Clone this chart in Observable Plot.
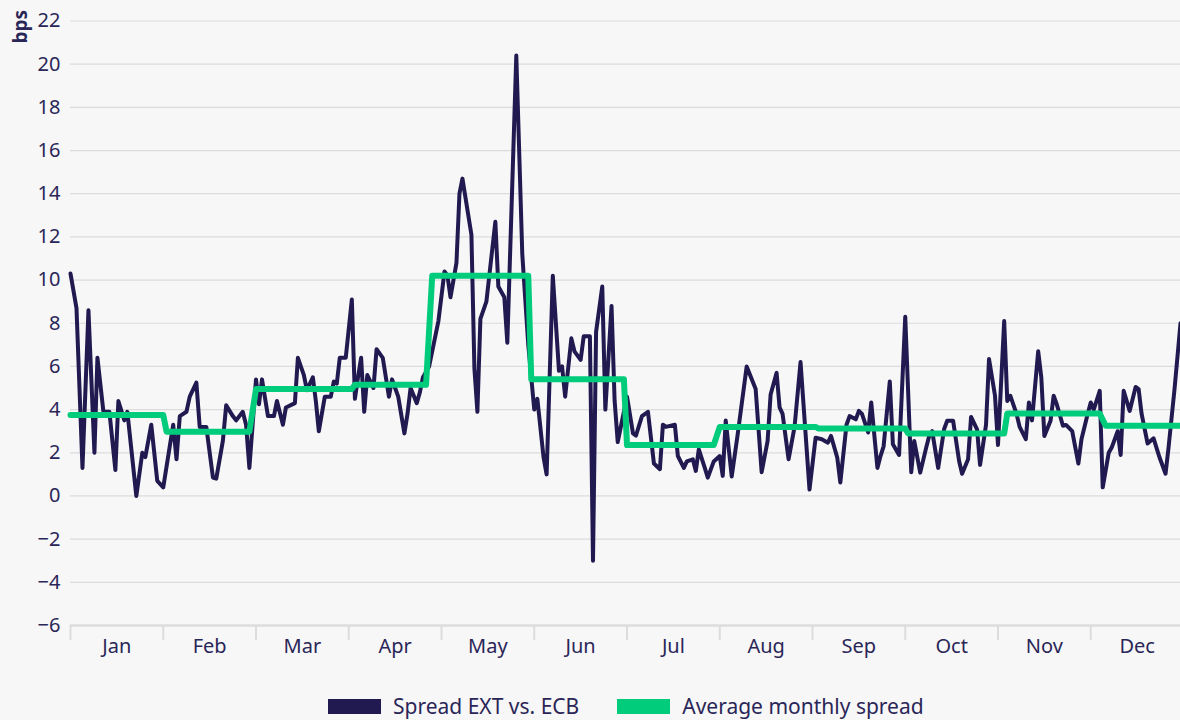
<!DOCTYPE html>
<html>
<head>
<meta charset="utf-8">
<script src="https://cdn.jsdelivr.net/npm/d3@7"></script>
<script src="https://cdn.jsdelivr.net/npm/@observablehq/plot@0.6"></script>
<style>
  html, body { margin: 0; padding: 0; background: #f7f7f7; overflow: hidden; }
  body { width: 1180px; height: 720px; position: relative; font-family: "Noto Sans", sans-serif; color: #2a2657; }
  #legend { position: absolute; left: 328px; top: 696px; height: 20px; display: flex; align-items: center; font-size: 21px; white-space: nowrap; }
  .item { display: flex; align-items: center; margin-right: 38px; }
  .sw { width: 53px; height: 15px; margin-right: 12px; }
</style>
</head>
<body>
<div id="chart"></div>
<div id="legend"></div>
<script>
const months = ["Jan","Feb","Mar","Apr","May","Jun","Jul","Aug","Sep","Oct","Nov","Dec"];
const daysInMonth = [31,28,31,30,31,30,31,31,30,31,30,31];
const yTicks = [-6,-4,-2,0,2,4,6,8,10,12,14,16,18,20,22];
const seriesNames = ["Spread EXT vs. ECB", "Average monthly spread"];
const seriesColors = ["#211a50", "#00cc7c"];

// Spread EXT vs. ECB (bps): [month, day, value]
const spread = [
  ["Jan",1,10.3],["Jan",3,8.7],["Jan",5,1.3],["Jan",7,8.6],["Jan",9,2.0],["Jan",10,6.4],["Jan",12,3.9],["Jan",14,3.9],
  ["Jan",16,1.2],["Jan",17,4.4],["Jan",19,3.5],["Jan",20,3.9],["Jan",23,0.0],["Jan",25,2.0],["Jan",26,1.8],["Jan",28,3.3],["Jan",30,0.7],
  ["Feb",1,0.4],["Feb",4,3.3],["Feb",5,1.7],["Feb",6,3.7],["Feb",8,3.9],["Feb",9,4.6],["Feb",11,5.25],["Feb",12,3.2],["Feb",14,3.2],
  ["Feb",16,0.85],["Feb",17,0.8],["Feb",19,2.55],["Feb",20,4.2],["Feb",22,3.7],["Feb",23,3.5],["Feb",25,3.9],["Feb",26,3.3],["Feb",27,1.3],
  ["Mar",1,5.4],["Mar",2,4.25],["Mar",3,5.4],["Mar",5,3.7],["Mar",7,3.7],["Mar",8,4.4],["Mar",10,3.3],["Mar",11,4.1],["Mar",14,4.3],
  ["Mar",15,6.4],["Mar",17,5.6],["Mar",18,4.9],["Mar",20,5.5],["Mar",21,4.4],["Mar",22,3.0],["Mar",24,4.6],["Mar",26,4.6],["Mar",27,5.3],
  ["Mar",28,5.2],["Mar",29,6.4],["Mar",31,6.4],
  ["Apr",2,9.1],["Apr",3,4.5],["Apr",4,5.5],["Apr",5,6.4],["Apr",6,3.9],["Apr",7,5.6],["Apr",9,5.0],["Apr",10,6.8],["Apr",12,6.4],
  ["Apr",14,4.6],["Apr",15,5.4],["Apr",16,5.0],["Apr",17,4.6],["Apr",19,2.9],["Apr",20,3.8],["Apr",21,5.0],["Apr",23,4.3],["Apr",24,4.8],
  ["Apr",25,5.5],["Apr",27,6.0],["Apr",30,8.1],
  ["May",2,10.4],["May",3,10.2],["May",4,9.2],["May",6,10.8],["May",7,14.0],["May",8,14.7],["May",11,12.1],["May",12,5.9],["May",13,3.9],
  ["May",14,8.2],["May",16,9.0],["May",19,12.7],["May",20,9.7],["May",22,9.2],["May",23,7.1],["May",26,20.4],["May",28,11.2],["May",30,7.0],
  ["Jun",1,4.0],["Jun",2,4.5],["Jun",4,1.8],["Jun",5,1.0],["Jun",7,10.2],["Jun",9,5.8],["Jun",10,6.0],["Jun",11,4.6],["Jun",13,7.3],
  ["Jun",14,6.7],["Jun",16,6.3],["Jun",17,7.4],["Jun",19,7.4],["Jun",20,-3.0],["Jun",21,7.6],["Jun",23,9.7],["Jun",24,4.0],["Jun",26,8.8],
  ["Jun",27,4.4],["Jun",28,2.5],
  ["Jul",1,4.6],["Jul",3,2.9],["Jul",4,2.8],["Jul",6,3.7],["Jul",8,3.9],["Jul",10,1.5],["Jul",12,1.24],["Jul",13,3.3],["Jul",14,3.2],
  ["Jul",17,3.3],["Jul",18,1.85],["Jul",20,1.3],["Jul",21,1.6],["Jul",23,1.7],["Jul",24,1.16],["Jul",25,2.16],["Jul",27,1.3],["Jul",28,0.85],["Jul",30,1.6],
  ["Aug",1,1.85],["Aug",2,0.93],["Aug",3,3.5],["Aug",5,0.9],["Aug",7,2.86],["Aug",10,6.0],["Aug",13,4.95],["Aug",15,1.1],["Aug",17,2.55],
  ["Aug",18,4.7],["Aug",20,5.7],["Aug",21,4.1],["Aug",22,3.8],["Aug",24,1.7],["Aug",26,3.2],["Aug",28,6.2],["Aug",31,0.3],
  ["Sep",2,2.7],["Sep",4,2.63],["Sep",6,2.47],["Sep",7,2.78],["Sep",9,1.78],["Sep",10,0.62],["Sep",12,3.3],["Sep",13,3.7],["Sep",15,3.55],
  ["Sep",16,3.94],["Sep",17,3.8],["Sep",19,2.94],["Sep",20,4.33],["Sep",22,1.3],["Sep",23,1.85],["Sep",24,2.3],["Sep",26,5.3],["Sep",27,2.4],["Sep",29,1.9],
  ["Oct",1,8.3],["Oct",3,1.1],["Oct",4,2.55],["Oct",6,1.08],["Oct",8,2.24],["Oct",9,2.78],["Oct",10,3.0],["Oct",12,1.3],["Oct",14,3.1],
  ["Oct",15,3.48],["Oct",17,3.48],["Oct",19,1.62],["Oct",20,1.03],["Oct",22,1.7],["Oct",23,3.66],["Oct",25,3.09],["Oct",26,1.44],["Oct",28,3.3],
  ["Oct",29,6.34],["Oct",31,4.64],
  ["Nov",1,2.36],["Nov",3,8.1],["Nov",4,4.4],["Nov",5,4.64],["Nov",7,3.8],["Nov",8,3.2],["Nov",10,2.63],["Nov",11,4.33],["Nov",12,3.5],
  ["Nov",14,6.7],["Nov",15,5.5],["Nov",16,2.78],["Nov",18,3.48],["Nov",19,4.64],["Nov",20,4.25],["Nov",22,3.25],["Nov",23,3.29],["Nov",25,3.0],
  ["Nov",27,1.5],["Nov",28,2.63],["Nov",30,3.8],
  ["Dec",1,4.33],["Dec",2,4.0],["Dec",4,4.87],["Dec",5,0.4],["Dec",7,2.0],["Dec",8,2.24],["Dec",10,3.0],["Dec",11,1.9],["Dec",12,4.87],
  ["Dec",14,3.94],["Dec",16,5.05],["Dec",17,4.95],["Dec",18,3.8],["Dec",20,2.43],["Dec",22,2.67],["Dec",24,1.78],["Dec",26,1.03],["Dec",27,2.24],
  ["Dec",29,4.95],["Dec",31,8.0]
];

// Average monthly spread (bps), one value per month, with the first and last date of each level
const monthlyAverage = [3.75, 2.98, 4.95, 5.15, 10.2, 5.41, 2.36, 3.2, 3.12, 2.89, 3.82, 3.25];
const averageStart = [["Jan",1],["Feb",2],["Mar",1],["Apr",3],["Apr",28],["May",31],["Jul",1],["Aug",1],["Sep",3],["Oct",2],["Nov",4],["Dec",6]];
const averageEnd   = [["Feb",1],["Feb",27],["Apr",2],["Apr",26],["May",30],["Jun",30],["Jul",30],["Sep",2],["Oct",1],["Nov",3],["Dec",4],["Dec",31]];

// time position in month units (each month equal width, as in the reference)
const pos = (m, d) => { const i = months.indexOf(m); return i + (d - 1) / daysInMonth[i]; };
const spreadRows = spread.map(([m, d, v]) => ({t: pos(m, d), v}));
const avgRows = monthlyAverage.flatMap((v, i) => [
  {t: pos(...averageStart[i]), v},
  {t: pos(...averageEnd[i]), v}
]);
const boundaries = d3.range(months.length + 1);
const centers = months.map((_, i) => i + 0.5);

const chart = Plot.plot({
  width: 1180,
  height: 680,
  marginLeft: 70,
  marginRight: -3,
  marginTop: 20.5,
  marginBottom: 55,
  style: {background: "transparent", fontFamily: "Noto Sans", fontSize: "20px", color: "#2a2657", overflow: "visible"},
  x: {domain: [0, 12]},
  y: {domain: [-6, 22]},
  marks: [
    Plot.gridY(yTicks, {stroke: "#dcdcdc", strokeOpacity: 1, strokeWidth: 1.2}),
    Plot.axisY(yTicks, {tickSize: 0, tickPadding: 10, tickFormat: d3.format("d"), label: null}),
    Plot.ruleY([-6], {stroke: "#dcdcdc", strokeWidth: 2.5}),
    Plot.axisX(boundaries, {tickSize: 15, stroke: "#dcdcdc", strokeWidth: 2, tickFormat: () => "", label: null}),
    Plot.axisX(centers, {tickSize: 0, tickPadding: 13, tickFormat: d => months[Math.floor(d)], label: null}),
    Plot.text(["bps"], {frameAnchor: "top-left", text: d => d, rotate: -90, textAnchor: "end", dx: -57, dy: -11, fontWeight: "bold", fontSize: 19, fill: "#2a2657"}),
    Plot.line(spreadRows, {x: "t", y: "v", stroke: seriesColors[0], strokeWidth: 4, strokeLinejoin: "round", strokeLinecap: "round"}),
    Plot.line(avgRows, {x: "t", y: "v", stroke: seriesColors[1], strokeWidth: 6, strokeLinejoin: "round", strokeLinecap: "round"})
  ]
});
document.getElementById("chart").append(chart);

const legend = document.getElementById("legend");
seriesNames.forEach((name, i) => {
  const item = document.createElement("div");
  item.className = "item";
  const sw = document.createElement("div");
  sw.className = "sw";
  sw.style.background = seriesColors[i];
  const label = document.createElement("span");
  label.textContent = name;
  item.append(sw, label);
  legend.append(item);
});
</script>
</body>
</html>
